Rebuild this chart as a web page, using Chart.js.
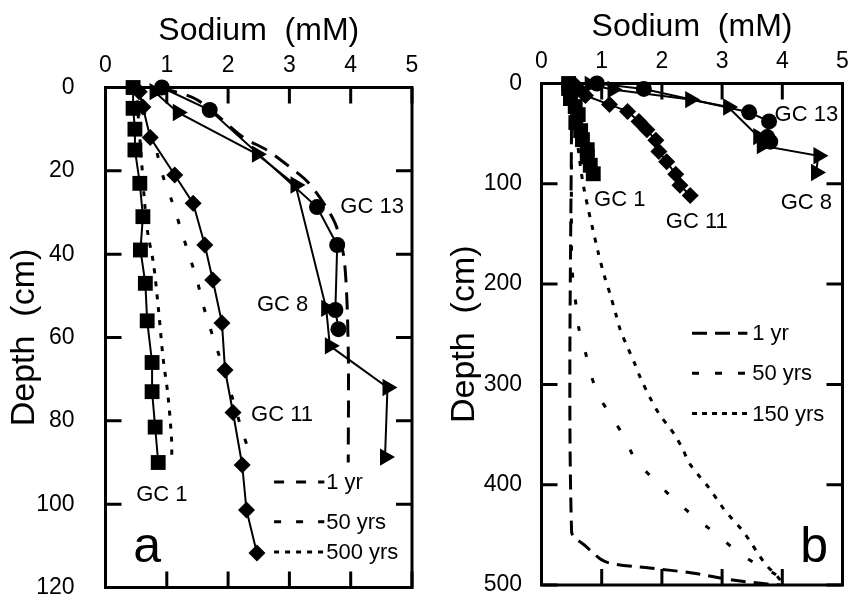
<!DOCTYPE html>
<html>
<head>
<meta charset="utf-8">
<script src="https://cdn.jsdelivr.net/npm/chart.js@4.4.0/dist/chart.umd.min.js"></script>
<style>
  html, body { margin: 0; padding: 0; background: #fff; }
  #wrap { position: relative; width: 853px; height: 601px; }
  canvas { position: absolute; top: 0; }
  #chartA { left: 0; }
  #chartB { left: 430px; }
</style>
</head>
<body>
<div id="wrap">
  <canvas id="chartA" width="430" height="601"></canvas>
  <canvas id="chartB" width="423" height="601"></canvas>
</div>
<script>
// measured cores (same data in both panels), sodium in mM vs depth in cm
const gc1Depth = [0, 5, 10, 15, 23, 31, 39, 47, 56, 66, 73, 81.5, 90];
const gc1Na = [0.45, 0.45, 0.48, 0.48, 0.56, 0.61, 0.57, 0.65, 0.68, 0.76, 0.76, 0.81, 0.86];
const gc11Depth = [1, 4.7, 12, 21, 27.8, 37.8, 46.2, 56.5, 67.8, 78, 90.6, 101.4, 111.7];
const gc11Na = [0.55, 0.61, 0.73, 1.13, 1.43, 1.62, 1.75, 1.9, 1.95, 2.08, 2.23, 2.3, 2.47];
const gc13Depth = [0, 5.4, 28.7, 37.8, 53.4, 58];
const gc13Na = [0.92, 1.7, 3.45, 3.78, 3.75, 3.8];
const gc8Depth = [1, 6, 16, 23.4, 53, 62, 72, 88.7];
const gc8Na = [0.8, 1.18, 2.47, 3.1, 3.6, 3.66, 4.6, 4.56];

// model curves, panel a
const a1yrDepth = [0, 3, 12, 15, 19, 22.7, 28.7, 33.5, 42, 63, 90];
const a1yrNa = [0.9, 1.5, 2.25, 2.63, 3.0, 3.3, 3.6, 3.77, 3.9, 3.96, 3.96];
const a50yrDepth = [0, 8, 15.7, 20.5, 28, 35, 41, 46, 51.5, 56, 61, 71, 82, 88];
const a50yrNa = [0.5, 0.68, 0.84, 0.92, 1.1, 1.25, 1.38, 1.49, 1.58, 1.67, 1.78, 2.0, 2.22, 2.36];
const a500yrDepth = [0, 10, 20, 28, 35, 42, 52.6, 65, 74, 85, 89];
const a500yrNa = [0.5, 0.55, 0.6, 0.64, 0.69, 0.78, 0.86, 0.94, 1.02, 1.08, 1.08];

// model curves, panel b
const b1yrDepth = [0, 447, 461, 477, 483, 488, 495, 499, 500];
const b1yrNa = [0.5, 0.5, 0.73, 1.07, 1.8, 2.5, 3.17, 3.75, 3.97];
const b50yrDepth = [0, 174, 200, 224, 244, 268, 288, 310, 330, 353, 375, 395, 415, 435, 450, 467, 481, 490, 498];
const b50yrNa = [0.5, 0.5, 0.53, 0.58, 0.62, 0.73, 0.81, 0.94, 1.14, 1.38, 1.56, 1.87, 2.21, 2.6, 2.92, 3.26, 3.62, 3.9, 4.0];
const b150yrDepth = [0, 60, 103, 168, 193, 210, 229, 246, 263, 278, 293, 313, 330, 341, 351, 365, 378, 390, 403, 415, 426, 435, 445, 456, 468, 480, 490, 498];
const b150yrNa = [0.5, 0.6, 0.7, 0.94, 1.05, 1.14, 1.23, 1.31, 1.43, 1.54, 1.64, 1.8, 1.96, 2.1, 2.22, 2.35, 2.45, 2.6, 2.78, 2.92, 3.05, 3.18, 3.33, 3.46, 3.59, 3.73, 3.9, 4.0];

// axis ticks
const naTicks = [0, 1, 2, 3, 4, 5];
const depthTicksA = [0, 20, 40, 60, 80, 100, 120];
const depthTicksB = [0, 100, 200, 300, 400, 500];

const FONT = "'Liberation Sans', Arial, Helvetica, sans-serif";
Chart.defaults.font.family = FONT;
Chart.defaults.color = '#000';

function pts(na, depth) {
  return na.map((v, i) => ({ x: v, y: depth[i] }));
}

function coreSets() {
  return [
    { label: 'GC 1', data: pts(gc1Na, gc1Depth), pointStyle: 'rect', pointRadius: 10.5 },
    { label: 'GC 11', data: pts(gc11Na, gc11Depth), pointStyle: 'rectRot', pointRadius: 8.5 },
    { label: 'GC 13', data: pts(gc13Na, gc13Depth), pointStyle: 'circle', pointRadius: 8 },
    { label: 'GC 8', data: pts(gc8Na, gc8Depth), pointStyle: 'triangle', pointRadius: 10, pointRotation: 90 }
  ].map(d => Object.assign({
    showLine: true, borderColor: '#000', backgroundColor: '#000', borderWidth: 2,
    pointBorderWidth: 0, clip: false, order: 0
  }, d));
}

function modelSet(label, na, depth, dash) {
  return {
    label: label, data: pts(na, depth), showLine: true, borderColor: '#000',
    borderWidth: 3, borderDash: dash, pointRadius: 0, tension: 0.3, order: 1
  };
}

// border with inward tick marks on all four sides
const framePlugin = {
  id: 'frame',
  afterDatasetsDraw(chart) {
    const { ctx, chartArea: a, scales: { x, y } } = chart;
    const len = 16;
    ctx.save();
    ctx.strokeStyle = '#000';
    ctx.lineWidth = 3;
    ctx.strokeRect(a.left, a.top, a.right - a.left, a.bottom - a.top);
    ctx.beginPath();
    x.ticks.forEach(t => {
      const px = x.getPixelForValue(t.value);
      ctx.moveTo(px, a.top); ctx.lineTo(px, a.top + len);
      ctx.moveTo(px, a.bottom); ctx.lineTo(px, a.bottom - len);
    });
    y.ticks.forEach(t => {
      const py = y.getPixelForValue(t.value);
      ctx.moveTo(a.left, py); ctx.lineTo(a.left + len, py);
      ctx.moveTo(a.right, py); ctx.lineTo(a.right - len, py);
    });
    ctx.stroke();
    ctx.restore();
  }
};

// text labels placed in data coordinates
const labelPlugin = {
  id: 'textLabels',
  afterDatasetsDraw(chart, args, opts) {
    const { ctx, scales: { x, y } } = chart;
    ctx.save();
    ctx.fillStyle = '#000';
    ctx.textAlign = 'center';
    ctx.textBaseline = 'middle';
    (opts.items || []).forEach(it => {
      ctx.font = (it.size || 22) + 'px ' + FONT;
      ctx.fillText(it.text, x.getPixelForValue(it.x), y.getPixelForValue(it.y));
    });
    ctx.restore();
  }
};

// in-plot legend for the model curves
const keyPlugin = {
  id: 'curveKey',
  afterDatasetsDraw(chart, args, opts) {
    const { ctx, scales: { x, y } } = chart;
    ctx.save();
    ctx.strokeStyle = '#000';
    ctx.fillStyle = '#000';
    ctx.lineWidth = 3;
    ctx.font = '22px ' + FONT;
    ctx.textAlign = 'left';
    ctx.textBaseline = 'middle';
    (opts.items || []).forEach(it => {
      const py = y.getPixelForValue(it.depth);
      ctx.setLineDash(it.dash);
      ctx.beginPath();
      ctx.moveTo(x.getPixelForValue(opts.from), py);
      ctx.lineTo(x.getPixelForValue(opts.to), py);
      ctx.stroke();
      ctx.setLineDash([]);
      ctx.fillText(it.text, x.getPixelForValue(opts.textAt), py + 1);
    });
    ctx.restore();
  }
};

function makeChart(id, cfg) {
  return new Chart(document.getElementById(id), {
    type: 'scatter',
    data: { datasets: coreSets().concat(cfg.models) },
    options: {
      responsive: false,
      animation: false,
      devicePixelRatio: 1,
      layout: { padding: cfg.padding },
      plugins: {
        legend: { display: false },
        tooltip: { enabled: false },
        textLabels: { items: cfg.labels },
        curveKey: cfg.key
      },
      scales: {
        x: {
          type: 'linear', position: 'top', min: 0, max: 5,
          afterBuildTicks: s => { s.ticks = naTicks.map(v => ({ value: v })); },
          ticks: { font: { size: 23 }, padding: 0 },
          grid: { display: false },
          border: { display: false },
          title: { display: true, text: 'Sodium  (mM)', font: { size: 32 }, padding: { top: cfg.xTitlePad, bottom: 0 } },
          afterFit: s => { s.height = cfg.top; s.paddingLeft = 0; s.paddingRight = 0; }
        },
        y: {
          type: 'linear', reverse: true, min: 0, max: cfg.depthTicks[cfg.depthTicks.length - 1],
          afterBuildTicks: s => { s.ticks = cfg.depthTicks.map(v => ({ value: v })); },
          ticks: { font: { size: 23 }, padding: cfg.yTickPad },
          grid: { display: false },
          border: { display: false },
          title: { display: true, text: 'Depth  (cm)', font: { size: 34 }, padding: { top: cfg.yTitlePad, bottom: 0 } },
          afterFit: s => { s.width = cfg.left; s.paddingTop = 0; s.paddingBottom = 0; }
        }
      }
    },
    plugins: [framePlugin, labelPlugin, keyPlugin]
  });
}

makeChart('chartA', {
  depthTicks: depthTicksA,
  padding: { left: 0, top: 0, right: 18, bottom: 13.5 },
  left: 105.5, top: 87.5, xTitlePad: 12, yTitlePad: 4.6, yTickPad: 23,
  models: [
    modelSet('1 yr', a1yrNa, a1yrDepth, [17, 10]),
    modelSet('50 yrs', a50yrNa, a50yrDepth, [5, 18]),
    modelSet('500 yrs', a500yrNa, a500yrDepth, [5, 8])
  ],
  labels: [
    { text: 'GC 13', x: 4.35, y: 28.7 },
    { text: 'GC 8', x: 2.89, y: 52.2 },
    { text: 'GC 11', x: 2.88, y: 78.6 },
    { text: 'GC 1', x: 0.92, y: 97.8 },
    { text: 'a', x: 0.68, y: 110.5, size: 50 }
  ],
  key: {
    from: 2.75, to: 3.57, textAt: 3.6,
    items: [
      { text: '1 yr', depth: 94.7, dash: [10, 12] },
      { text: '50 yrs', depth: 104.2, dash: [7, 15] },
      { text: '500 yrs', depth: 111.5, dash: [5, 6] }
    ]
  }
});

makeChart('chartB', {
  depthTicks: depthTicksB,
  padding: { left: 0, top: 0, right: 5, bottom: 16 },
  left: 111.5, top: 83.5, xTitlePad: 8, yTitlePad: 14.6, yTickPad: 11.5,
  models: [
    modelSet('1 yr', b1yrNa, b1yrDepth, [15, 8]),
    modelSet('50 yrs', b50yrNa, b50yrDepth, [5, 22]),
    modelSet('150 yrs', b150yrNa, b150yrDepth, [5, 8])
  ],
  labels: [
    { text: 'GC 13', x: 4.4, y: 31 },
    { text: 'GC 8', x: 4.4, y: 119 },
    { text: 'GC 11', x: 2.58, y: 138 },
    { text: 'GC 1', x: 1.3, y: 116 },
    { text: 'b', x: 4.53, y: 463, size: 50 }
  ],
  key: {
    from: 2.5, to: 3.42, textAt: 3.5,
    items: [
      { text: '1 yr', depth: 249, dash: [15, 8] },
      { text: '50 yrs', depth: 289, dash: [7, 16] },
      { text: '150 yrs', depth: 329, dash: [5, 5] }
    ]
  }
});
</script>
</body>
</html>
